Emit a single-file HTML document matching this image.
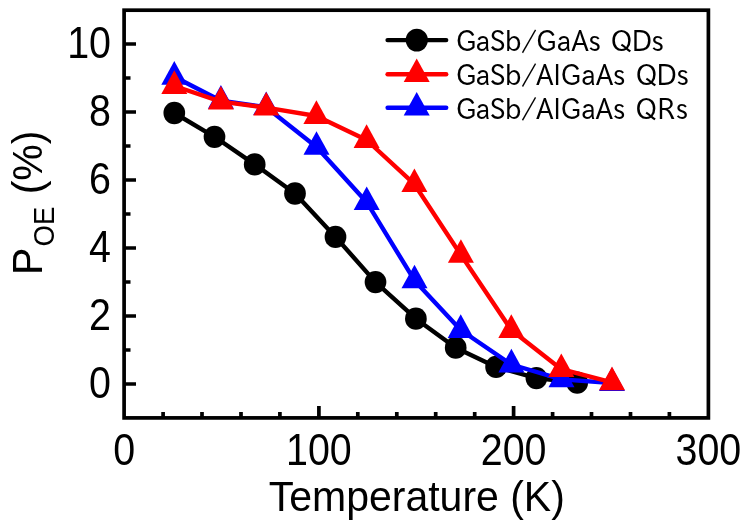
<!DOCTYPE html>
<html lang="en"><head><meta charset="utf-8"><title>P_OE vs Temperature</title>
<style>html,body{margin:0;padding:0;background:#fff}svg{display:block}text{font-family:"Liberation Sans",Arial,sans-serif;fill:#000}.lg{font-family:"IPAPGothic","IPAGothic","Liberation Sans",sans-serif}</style></head><body>
<svg width="749" height="529" viewBox="0 0 749 529">
<rect width="749" height="529" fill="#fff"/>
<g>
<polyline points="174.3,113.0 214.5,136.8 254.7,164.4 295.0,193.5 335.5,236.9 375.5,282.1 415.9,318.7 455.7,347.7 496.1,366.9 536.4,378.1 577.2,382.7" fill="none" stroke="#000" stroke-width="4.4" stroke-linejoin="round"/>
<ellipse cx="174.3" cy="113.0" rx="10.85" ry="11.15" fill="#000"/>
<ellipse cx="214.5" cy="136.8" rx="10.85" ry="11.15" fill="#000"/>
<ellipse cx="254.7" cy="164.4" rx="10.85" ry="11.15" fill="#000"/>
<ellipse cx="295.0" cy="193.5" rx="10.85" ry="11.15" fill="#000"/>
<ellipse cx="335.5" cy="236.9" rx="10.85" ry="11.15" fill="#000"/>
<ellipse cx="375.5" cy="282.1" rx="10.85" ry="11.15" fill="#000"/>
<ellipse cx="415.9" cy="318.7" rx="10.85" ry="11.15" fill="#000"/>
<ellipse cx="455.7" cy="347.7" rx="10.85" ry="11.15" fill="#000"/>
<ellipse cx="496.1" cy="366.9" rx="10.85" ry="11.15" fill="#000"/>
<ellipse cx="536.4" cy="378.1" rx="10.85" ry="11.15" fill="#000"/>
<ellipse cx="577.2" cy="382.7" rx="10.85" ry="11.15" fill="#000"/>
<polyline points="174.3,76.8 220.9,100.8 266.2,107.2 316.5,146.9 366.7,202.2 414.5,280.4 460.7,330.0 511.4,364.5 561.5,379.4 612.0,383.0" fill="none" stroke="#0000ff" stroke-width="4.4" stroke-linejoin="round"/>
<polygon points="174.3,61.1 161.3,84.7 187.3,84.7" fill="#0000ff"/>
<polygon points="220.9,85.1 207.9,108.7 233.9,108.7" fill="#0000ff"/>
<polygon points="266.2,91.5 253.2,115.1 279.2,115.1" fill="#0000ff"/>
<polygon points="316.5,131.2 303.5,154.8 329.5,154.8" fill="#0000ff"/>
<polygon points="366.7,186.5 353.7,210.1 379.7,210.1" fill="#0000ff"/>
<polygon points="414.5,264.7 401.5,288.3 427.5,288.3" fill="#0000ff"/>
<polygon points="460.7,314.3 447.7,337.9 473.7,337.9" fill="#0000ff"/>
<polygon points="511.4,348.8 498.4,372.4 524.4,372.4" fill="#0000ff"/>
<polygon points="561.5,363.7 548.5,387.3 574.5,387.3" fill="#0000ff"/>
<polygon points="612.0,367.3 599.0,390.9 625.0,390.9" fill="#0000ff"/>
<polyline points="174.3,86.0 220.9,101.6 266.2,107.7 316.4,116.0 366.6,140.0 414.4,184.2 460.9,254.9 511.3,330.0 561.3,369.2 612.0,382.3" fill="none" stroke="#ff0000" stroke-width="4.4" stroke-linejoin="round"/>
<polygon points="174.3,70.3 161.3,93.9 187.3,93.9" fill="#ff0000"/>
<polygon points="220.9,85.9 207.9,109.5 233.9,109.5" fill="#ff0000"/>
<polygon points="266.2,92.0 253.2,115.6 279.2,115.6" fill="#ff0000"/>
<polygon points="316.4,100.3 303.4,123.9 329.4,123.9" fill="#ff0000"/>
<polygon points="366.6,124.3 353.6,147.9 379.6,147.9" fill="#ff0000"/>
<polygon points="414.4,168.5 401.4,192.1 427.4,192.1" fill="#ff0000"/>
<polygon points="460.9,239.2 447.9,262.8 473.9,262.8" fill="#ff0000"/>
<polygon points="511.3,314.3 498.3,337.9 524.3,337.9" fill="#ff0000"/>
<polygon points="561.3,353.5 548.3,377.1 574.3,377.1" fill="#ff0000"/>
<polygon points="612.0,366.6 599.0,390.2 625.0,390.2" fill="#ff0000"/>
</g>
<rect x="124.1" y="10.2" width="584.3" height="407.7" fill="none" stroke="#000" stroke-width="3.7"/>
<path d="M163.1 417.9 V412.0 M202.0 417.9 V412.0 M241.0 417.9 V412.0 M279.9 417.9 V412.0 M318.9 417.9 V406.0 M357.8 417.9 V412.0 M396.8 417.9 V412.0 M435.7 417.9 V412.0 M474.7 417.9 V412.0 M513.6 417.9 V406.0 M552.6 417.9 V412.0 M591.5 417.9 V412.0 M630.5 417.9 V412.0 M669.4 417.9 V412.0 M124.1 384.0 H136.0 M124.1 350.0 H130.5 M124.1 316.0 H136.0 M124.1 282.0 H130.5 M124.1 248.0 H136.0 M124.1 214.0 H130.5 M124.1 180.0 H136.0 M124.1 146.0 H130.5 M124.1 112.0 H136.0 M124.1 78.0 H130.5 M124.1 44.0 H136.0" stroke="#000" stroke-width="3.7" fill="none"/>
<text transform="translate(124.1 465.3) scale(1 1.105)" font-size="39.4" text-anchor="middle">0</text>
<text transform="translate(318.9 465.3) scale(1 1.105)" font-size="39.4" text-anchor="middle">100</text>
<text transform="translate(513.6 465.3) scale(1 1.105)" font-size="39.4" text-anchor="middle">200</text>
<text transform="translate(708.4 465.3) scale(1 1.105)" font-size="39.4" text-anchor="middle">300</text>
<text transform="translate(111.0 397.8) scale(1 1.105)" font-size="39.4" text-anchor="end">0</text>
<text transform="translate(111.0 329.8) scale(1 1.105)" font-size="39.4" text-anchor="end">2</text>
<text transform="translate(111.0 261.8) scale(1 1.105)" font-size="39.4" text-anchor="end">4</text>
<text transform="translate(111.0 193.8) scale(1 1.105)" font-size="39.4" text-anchor="end">6</text>
<text transform="translate(111.0 125.8) scale(1 1.105)" font-size="39.4" text-anchor="end">8</text>
<text transform="translate(111.0 57.8) scale(1 1.105)" font-size="39.4" text-anchor="end">10</text>
<text transform="translate(416.8 510.8) scale(1 1.04)" font-size="41.0" text-anchor="middle">Temperature (K)</text>
<g transform="translate(42 274.9) rotate(-90) scale(1 1.04)"><text x="0" y="0" font-size="41.0">P</text><text x="28.4" y="11.8" font-size="27.5">OE</text><text x="80.6" y="0" font-size="41.0">(%)</text></g>
<line x1="387.6" y1="40.1" x2="446.2" y2="40.1" stroke="#000" stroke-width="4.4" stroke-linecap="round"/>
<ellipse cx="416.8" cy="40.1" rx="11.1" ry="11.4" fill="#000"/>
<text class="lg" transform="translate(456 51.0) scale(1 1.06)" font-size="27" textLength="208.0" lengthAdjust="spacingAndGlyphs" rotate="0 0 0 0 10.5 0" dx="0 -0.7 -0.7 -0.7 -0.4 1.4 0 0 0 0 2.4 -0.6 -0.6" dy="0 0 0 0 -2.2 2.2">GaSb/GaAs QDs</text>
<line x1="387.6" y1="74.3" x2="446.2" y2="74.3" stroke="#ff0000" stroke-width="4.4" stroke-linecap="round"/>
<polygon points="416.7,58.4 403.7,82.0 429.7,82.0" fill="#ff0000"/>
<text class="lg" transform="translate(456 84.8) scale(1 1.06)" font-size="27" textLength="232.9" lengthAdjust="spacingAndGlyphs" rotate="0 0 0 0 10.5 0" dx="0 -0.7 -0.7 -0.7 -0.4 1.4 0 0 0 0 0 0 2.8 -0.6 -0.6" dy="0 0 0 0 -2.2 2.2">GaSb/AlGaAs QDs</text>
<line x1="387.6" y1="107.8" x2="446.2" y2="107.8" stroke="#0000ff" stroke-width="4.4" stroke-linecap="round"/>
<polygon points="416.7,91.9 403.7,115.5 429.7,115.5" fill="#0000ff"/>
<text class="lg" transform="translate(456 118.5) scale(1 1.06)" font-size="27" textLength="232.3" lengthAdjust="spacingAndGlyphs" rotate="0 0 0 0 10.5 0" dx="0 -0.7 -0.7 -0.7 -0.4 1.4 0 0 0 0 0 0 2.8 0.2 1.0" dy="0 0 0 0 -2.2 2.2">GaSb/AlGaAs QRs</text>
</svg></body></html>
